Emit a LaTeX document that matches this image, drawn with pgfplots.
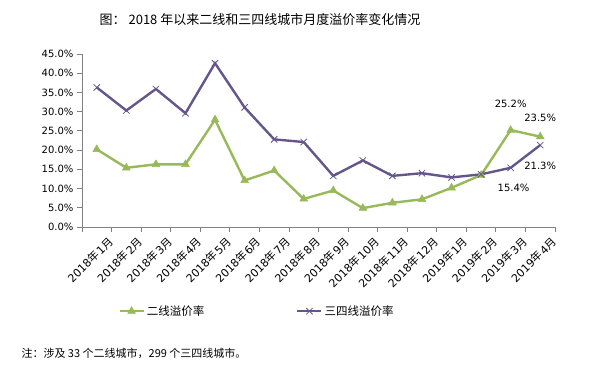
\documentclass[border=0pt]{standalone}
\usepackage{pgfplots}
\pgfplotsset{compat=1.18}
\usepackage{fontspec}
\setmainfont{DejaVu Sans}
\newfontfamily\cjk{Noto Sans CJK SC}
\definecolor{gline}{RGB}{152,185,90}
\definecolor{pline}{RGB}{100,86,138}
\definecolor{axgray}{RGB}{130,130,130}
\newcommand{\ml}[2]{#1{\cjk 年}\kern1.5bp#2{\cjk 月}}
\begin{document}
\begin{tikzpicture}
\path[use as bounding box] (0bp,0bp) rectangle (604bp,-366bp);
\node[font=\cjk\fontsize{13bp}{15bp}\selectfont, anchor=center] at (260bp,-20bp) {图：\ 2018 年以来二线和三四线城市月度溢价率变化情况};
\begin{axis}[
  at={(82bp,-227bp)}, anchor=south west,
  scale only axis, width=473bp, height=173bp,
  xmin=-0.5, xmax=15.5, ymin=0, ymax=45,
  axis x line*=bottom, axis y line*=left,
  axis line style={axgray, line width=0.8pt},
  every tick/.style={axgray, line width=0.8pt},
  tick align=outside,
  xtick={0,...,15},
  major x tick style={draw=none},
  minor xtick={-0.5,0.5,...,15.5},
  minor tick length=5bp,
  major tick length=5bp,
  xticklabels={\ml{2018}{1},\ml{2018}{2},\ml{2018}{3},\ml{2018}{4},\ml{2018}{5},\ml{2018}{6},\ml{2018}{7},\ml{2018}{8},\ml{2018}{9},\ml{2018}{10},\ml{2018}{11},\ml{2018}{12},\ml{2019}{1},\ml{2019}{2},\ml{2019}{3},\ml{2019}{4}},
  xticklabel style={rotate=45, anchor=north east, font=\fontsize{11bp}{13bp}\selectfont, inner sep=1bp, xshift=6bp, yshift=-9bp},
  ytick={0,5,...,45},
  yticklabel={\pgfmathprintnumber[fixed,fixed zerofill,precision=1]{\tick}\%},
  yticklabel style={font=\fontsize{10bp}{12bp}\selectfont},
  /pgf/number format/assume math mode=true,
  clip=false,
  legend style={at={(0.37,-0.43)}, anchor=north, draw=none, font=\cjk\fontsize{11.5bp}{13bp}\selectfont, /tikz/every even column/.append style={column sep=90bp}},
  legend columns=2,
  legend image code/.code={\draw[#1] (0bp,0bp) -- (24bp,0bp); \draw[#1, mark repeat=1] plot coordinates {(12bp,0bp)};},
]
\addplot[color=gline, line width=2.4pt, mark=triangle*, mark size=4.5bp, mark options={solid, line width=0.5pt}] coordinates {
(0,20.2) (1,15.4) (2,16.3) (3,16.3) (4,27.9) (5,12.1) (6,14.7) (7,7.3) (8,9.5) (9,4.9) (10,6.3) (11,7.2) (12,10.2) (13,13.5) (14,25.2) (15,23.5)};
\addlegendentry{二线溢价率}
\addplot[color=pline, line width=2.4pt, mark=x, mark size=4.5bp, mark options={solid, line width=0.8pt}] coordinates {
(0,36.3) (1,30.3) (2,35.9) (3,29.6) (4,42.6) (5,31.1) (6,22.8) (7,22.1) (8,13.3) (9,17.3) (10,13.3) (11,14.0) (12,12.9) (13,13.7) (14,15.4) (15,21.3)};
\addlegendentry{三四线溢价率}
\node[font=\fontsize{10bp}{12bp}\selectfont] at (axis cs:14,32.0) {25.2\%};
\node[font=\fontsize{10bp}{12bp}\selectfont] at (axis cs:15,28.5) {23.5\%};
\node[font=\fontsize{10bp}{12bp}\selectfont] at (axis cs:15,15.8) {21.3\%};
\node[font=\fontsize{10bp}{12bp}\selectfont] at (axis cs:14.1,10.2) {15.4\%};
\end{axis}
\node[font=\cjk\fontsize{11bp}{13bp}\selectfont, anchor=west] at (18bp,-353bp) {注：涉及 33 个二线城市，299 个三四线城市。};
\end{tikzpicture}
\end{document}
